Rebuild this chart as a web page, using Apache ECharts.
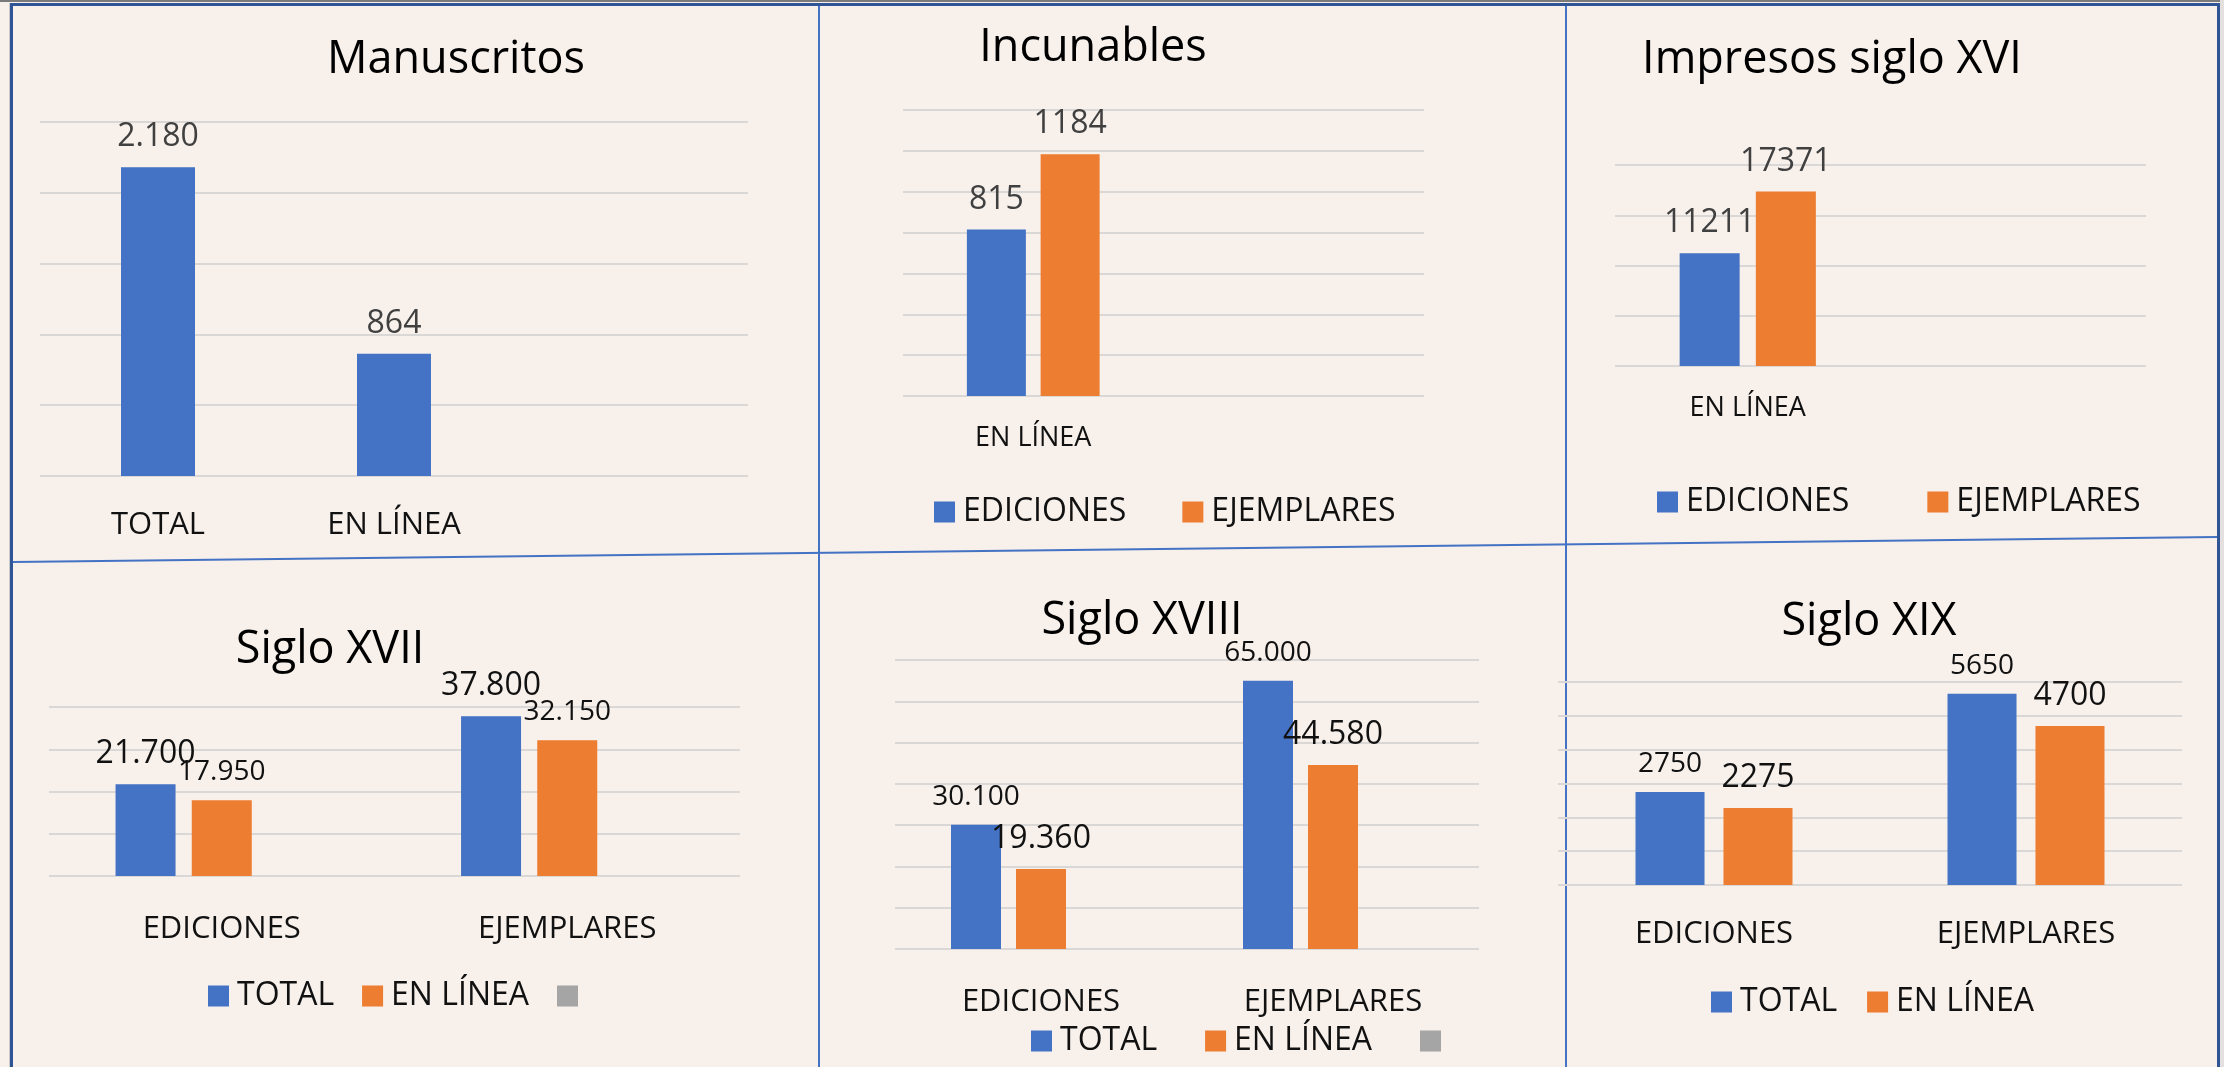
<!DOCTYPE html>
<html>
<head>
<meta charset="utf-8">
<title>Fondos digitalizados</title>
<script src="https://cdn.jsdelivr.net/npm/echarts@6/dist/echarts.min.js"></script>
<style>
  html, body { margin: 0; padding: 0; background: #F7F0EB; }
  #chart { width: 2224px; height: 1067px; }
</style>
</head>
<body>
<div id="chart"></div>
<script>
// Manuscritos
const manCategories = ['TOTAL', 'EN LÍNEA', ''];
const manValues = [2180, 864, null];
// Incunables
const incCategories = ['EN LÍNEA', ''];
const incEdiciones = [815, null];
const incEjemplares = [1184, null];
// Impresos siglo XVI
const xviCategories = ['EN LÍNEA', ''];
const xviEdiciones = [11211, null];
const xviEjemplares = [17371, null];
// Siglos XVII, XVIII, XIX
const sigloCategories = ['EDICIONES', 'EJEMPLARES'];
const xviiTotal = [21700, 37800];
const xviiEnLinea = [17950, 32150];
const xviiiTotal = [30100, 65000];
const xviiiEnLinea = [19360, 44580];
const xixTotal = [2750, 5650];
const xixEnLinea = [2275, 4700];
const emptySeries = [null, null];

const FONT = "'Open Sans', sans-serif";
const BLUE = '#4472C4', ORANGE = '#ED7D31', GRAY = '#A5A5A5';

// 2.180 / 21.700 style
function dotted(p) {
  return String(p.value).replace(/\B(?=(\d{3})+(?!\d))/g, '.');
}
function plain(p) {
  return String(p.value);
}

const grids = [
  {left: 40, top: 122, width: 708, height: 354},
  {left: 903, top: 110, width: 521, height: 286},
  {left: 1615, top: 165, width: 531, height: 201},
  {left: 49, top: 707, width: 691, height: 169},
  {left: 895, top: 660, width: 584, height: 289},
  {left: 1558, top: 682, width: 624, height: 203}
];

function catAxis(i, data, margin, size) {
  return {
    type: 'category', gridIndex: i, data: data,
    axisLine: {show: false}, axisTick: {show: false},
    axisLabel: {margin: margin, fontSize: size, color: '#111', fontFamily: FONT, interval: 0}
  };
}
function valAxis(i, max, step) {
  return {
    type: 'value', gridIndex: i, min: 0, max: max, interval: step,
    axisLabel: {show: false}, axisLine: {show: false}, axisTick: {show: false},
    splitLine: {lineStyle: {color: '#DAD8D6', width: 2}}
  };
}
function bar(name, data, i, color, width, gap, size, labelColor, fmt) {
  return {
    type: 'bar', name: name, data: data, xAxisIndex: i, yAxisIndex: i,
    barWidth: width, barGap: gap,
    itemStyle: {color: color},
    label: {show: true, position: 'top', distance: 14, fontFamily: FONT,
            fontSize: size, color: labelColor, formatter: fmt}
  };
}
function title(text, x, y) {
  return {text: text, left: x, top: y, padding: 0, textAlign: 'center', textVerticalAlign: 'middle',
          textStyle: {fontFamily: FONT, fontSize: 45, fontWeight: 'normal', color: '#000'}};
}
function legend(names, x, y, gap) {
  return {
    data: names, left: x, top: y - 16, padding: 0, itemGap: gap,
    itemWidth: 21, itemHeight: 21, icon: 'rect', selectedMode: false,
    textStyle: {fontFamily: FONT, fontSize: 32, color: '#111', padding: [0, 0, 0, 3]}
  };
}

const option = {
  animation: false,
  backgroundColor: '#F7F0EB',
  title: [
    title('Manuscritos', 456, 60),
    title('Incunables', 1093, 48),
    title('Impresos siglo XVI', 1832, 60),
    title('Siglo XVII', 330, 650),
    title('Siglo XVIII', 1142, 621),
    title('Siglo XIX', 1869, 622)
  ],
  legend: [
    legend(['EDICIONES', 'EJEMPLARES'], 934, 512, 56),
    legend(['EDICIONES', 'EJEMPLARES'], 1657, 502, 78),
    legend(['TOTAL', 'EN LÍNEA', ' '], 208, 996, 28),
    legend(['TOTAL', 'EN LÍNEA', ' '], 1031, 1041, 48),
    legend(['TOTAL', 'EN LÍNEA'], 1711, 1002, 30)
  ],
  grid: grids,
  xAxis: [
    catAxis(0, manCategories, 34, 31),
    catAxis(1, incCategories, 29, 27),
    catAxis(2, xviCategories, 29, 27),
    catAxis(3, sigloCategories, 38, 31),
    catAxis(4, sigloCategories, 38, 31),
    catAxis(5, sigloCategories, 34, 31)
  ],
  yAxis: [
    valAxis(0, 2500, 500),
    valAxis(1, 1400, 200),
    valAxis(2, 20000, 5000),
    valAxis(3, 40000, 10000),
    valAxis(4, 70000, 10000),
    valAxis(5, 6000, 1000)
  ],
  series: [
    bar('Manuscritos', manValues, 0, BLUE, 74, '0%', 32, '#404040', dotted),
    bar('EDICIONES', incEdiciones, 1, BLUE, 59, '25%', 32, '#404040', plain),
    bar('EJEMPLARES', incEjemplares, 1, ORANGE, 59, '25%', 32, '#404040', plain),
    bar('EDICIONES', xviEdiciones, 2, BLUE, 60, '27%', 32, '#404040', plain),
    bar('EJEMPLARES', xviEjemplares, 2, ORANGE, 60, '27%', 32, '#404040', plain),
    bar('TOTAL', xviiTotal, 3, BLUE, 60, '27%', 32, '#111', dotted),
    bar('EN LÍNEA', xviiEnLinea, 3, ORANGE, 60, '27%', 28, '#111', dotted),
    bar(' ', emptySeries, 3, GRAY, 60, '27%', 28, '#111', dotted),
    bar('TOTAL', xviiiTotal, 4, BLUE, 50, '30%', 28, '#111', dotted),
    bar('EN LÍNEA', xviiiEnLinea, 4, ORANGE, 50, '30%', 32, '#111', dotted),
    bar(' ', emptySeries, 4, GRAY, 50, '30%', 28, '#111', dotted),
    bar('TOTAL', xixTotal, 5, BLUE, 69, '27.5%', 28, '#111', plain),
    bar('EN LÍNEA', xixEnLinea, 5, ORANGE, 69, '27.5%', 32, '#111', plain)
  ],
  // frame and panel dividers
  graphic: [
    {type: 'rect', shape: {x: 0, y: 0, width: 2224, height: 2}, style: {fill: '#7a7a7a'}},
    {type: 'rect', shape: {x: 10, y: 3, width: 2210, height: 3}, style: {fill: '#2F5597'}},
    {type: 'rect', shape: {x: 9, y: 3, width: 1, height: 1064}, style: {fill: '#c9c9c9'}},
    {type: 'rect', shape: {x: 10, y: 3, width: 3, height: 1064}, style: {fill: '#2F5597'}},
    {type: 'rect', shape: {x: 2217, y: 3, width: 3, height: 1064}, style: {fill: '#2F5597'}},
    {type: 'rect', shape: {x: 2220, y: 0, width: 4, height: 1067}, style: {fill: '#E4E0DF'}},
    {type: 'rect', shape: {x: 818, y: 6, width: 2, height: 1061}, style: {fill: '#4472C4'}},
    {type: 'rect', shape: {x: 1565, y: 6, width: 2, height: 1061}, style: {fill: '#4472C4'}},
    {type: 'line', shape: {x1: 13, y1: 562, x2: 2217, y2: 537}, style: {stroke: '#4472C4', lineWidth: 2}}
  ]
};

const chart = echarts.init(document.getElementById('chart'), null, {width: 2224, height: 1067});
chart.setOption(option);
</script>
</body>
</html>
